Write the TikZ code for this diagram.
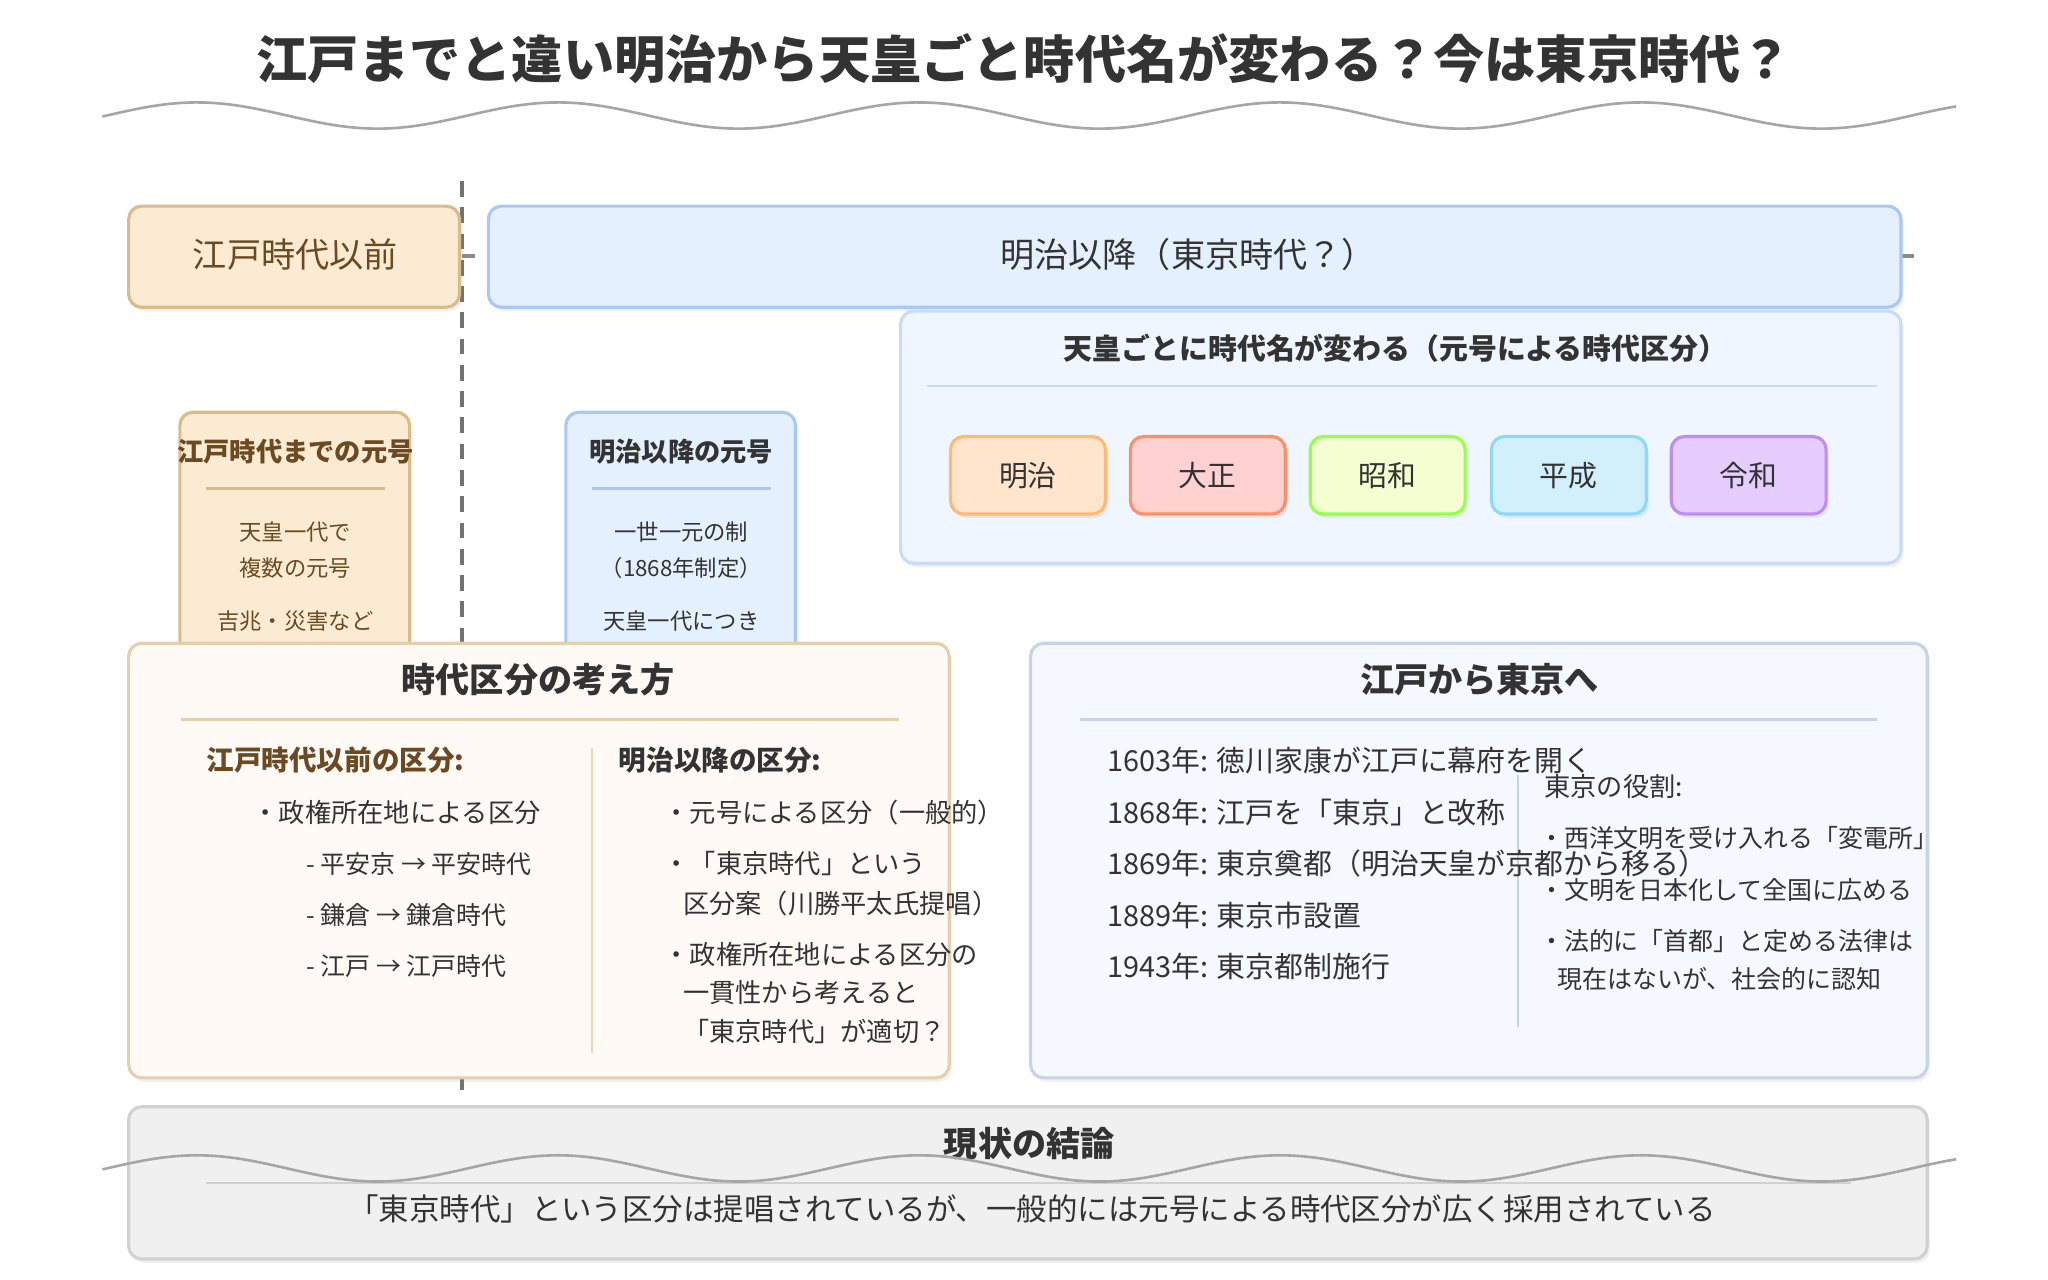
\documentclass[tikz,border=0pt]{standalone}
\usepackage{fontspec}
\setmainfont{Noto Sans CJK JP}
\usetikzlibrary{shadows}
\definecolor{inkdark}{HTML}{333333}
\definecolor{inkbrown}{HTML}{6B4A22}
\definecolor{edofill}{HTML}{FAEBD2}
\definecolor{edoline}{HTML}{D9BC88}
\definecolor{meijifill}{HTML}{E4F0FE}
\definecolor{meijiline}{HTML}{A9C8F6}
\definecolor{erapanel}{HTML}{EFF6FF}
\definecolor{erapanelline}{HTML}{CADCF5}
\definecolor{tokyofill}{HTML}{F5F8FF}
\definecolor{tokyoline}{HTML}{C9D3E8}
\tikzset{
  box/.style={draw, line width=1.2pt, rounded corners=5pt, drop shadow={opacity=0.12, shadow xshift=1pt, shadow yshift=-1.5pt}},
  txt/.style={inner sep=0pt, text=inkdark, font=\fontsize{10}{12}\selectfont},
  ltxt/.style={txt, anchor=west},
  ptitle/.style={inner sep=0pt, text=inkdark, font=\fontsize{12}{14}\selectfont\bfseries},
  era/.style={box, minimum width=59pt, minimum height=29.5pt, inner sep=0pt, text=inkdark, font=\fontsize{11}{13}\selectfont},
  rule/.style={line width=1pt},
  wave/.style={draw=black!35, line width=1pt}
}
\begin{document}
\begin{tikzpicture}[x=0.5pt, y=-0.5pt]
  \useasboundingbox (0,0) rectangle (1560,975);
  % title
  \node[inner sep=0pt, text=inkdark, font=\fontsize{19.5}{22}\selectfont\bfseries] (title) at (780,45) {江戸までと違い明治から天皇ごと時代名が変わる？今は東京時代？};
  \draw[wave, domain=78:1490, samples=220] plot (\x, {88-10*cos((\x-150)/275*360)});
  % divider between periods
  \draw[black!55, line width=1.5pt, dash pattern=on 6pt off 4pt] (352,138) -- (352,832);
  \draw[black!45, line width=1.5pt] (352,195) -- (362,195);
  \draw[black!45, line width=1.5pt] (1448,195) -- (1458,195);
  % period headers
  \draw[box, draw=edoline, fill=edofill] (98,157) rectangle (350,234);
  \node[inner sep=0pt, text=inkbrown, font=\fontsize{13}{15}\selectfont] (edo) at (225,194) {江戸時代以前};
  \draw[box, draw=meijiline, fill=meijifill] (372,157) rectangle (1448,234);
  \node[inner sep=0pt, text=inkdark, font=\fontsize{13}{15}\selectfont] (meiji) at (905,194) {明治以降（東京時代？）};
  % era names panel
  \draw[box, draw=erapanelline, fill=erapanel] (686,237) rectangle (1448,429);
  \node[ptitle, font=\fontsize{11}{13}\selectfont\bfseries] (eratitle) at (1063,265) {天皇ごとに時代名が変わる（元号による時代区分）};
  \draw[rule, erapanelline] (706,294) -- (1430,294);
  \node[era, draw=orange!55, fill=orange!20!white] (e1) at (783,362) {明治};
  \node[era, draw=red!45!orange!60, fill=red!18!white] (e2) at (920,362) {大正};
  \node[era, draw=green!45!lime!70, fill=lime!18!white] (e3) at (1057,362) {昭和};
  \node[era, draw=cyan!45, fill=cyan!18!white] (e4) at (1195,362) {平成};
  \node[era, draw={rgb,255:red,192;green,140;blue,240}, fill={rgb,255:red,230;green,204;blue,255}] (e5) at (1332,362) {令和};
  % small gengo boxes
  \draw[box, draw=edoline, fill=edofill] (137,314) rectangle (312,520);
  \node[inner sep=0pt, text=inkbrown, font=\fontsize{10}{12}\selectfont\bfseries] (g1t) at (225,344) {江戸時代までの元号};
  \draw[rule, edoline] (157,372) -- (293,372);
  \node[txt, text=inkbrown, font=\fontsize{8.5}{10}\selectfont] (g1a) at (225,405) {天皇一代で};
  \node[txt, text=inkbrown, font=\fontsize{8.5}{10}\selectfont] (g1b) at (225,433) {複数の元号};
  \node[txt, text=inkbrown, font=\fontsize{8.5}{10}\selectfont] (g1c) at (225,473) {吉兆・災害など};
  \draw[box, draw=meijiline, fill=meijifill] (431,314) rectangle (606,520);
  \node[inner sep=0pt, text=inkdark, font=\fontsize{10}{12}\selectfont\bfseries] (g2t) at (519,344) {明治以降の元号};
  \draw[rule, meijiline] (451,372) -- (587,372);
  \node[txt, font=\fontsize{8.5}{10}\selectfont] (g2a) at (519,405) {一世一元の制};
  \node[txt, font=\fontsize{8.5}{10}\selectfont] (g2b) at (519,433) {（1868年制定）};
  \node[txt, font=\fontsize{8.5}{10}\selectfont] (g2c) at (519,473) {天皇一代につき};
  % way of thinking panel
  \draw[box, draw=edoline!70, fill=orange!4!white] (98,490) rectangle (723,821);
  \node[ptitle, font=\fontsize{13}{15}\selectfont\bfseries] (kt) at (410,518) {時代区分の考え方};
  \draw[rule, edoline!70] (138,548) -- (685,548);
  \draw[line width=0.8pt, edoline!60] (451,570) -- (451,802);
  \node[ltxt, text=inkbrown, font=\fontsize{10.5}{12}\selectfont\bfseries] (kl) at (157,579) {江戸時代以前の区分:};
  \node[ltxt] (kl1) at (192,619) {・政権所在地による区分};
  \node[ltxt, font=\fontsize{9.5}{11}\selectfont] (kl2) at (233,658) {- 平安京 → 平安時代};
  \node[ltxt, font=\fontsize{9.5}{11}\selectfont] (kl3) at (233,697) {- 鎌倉 → 鎌倉時代};
  \node[ltxt, font=\fontsize{9.5}{11}\selectfont] (kl4) at (233,736) {- 江戸 → 江戸時代};
  \node[ltxt, font=\fontsize{10.5}{12}\selectfont\bfseries] (kr) at (471,579) {明治以降の区分:};
  \node[ltxt] (kr1) at (505,619) {・元号による区分（一般的）};
  \node[ltxt] (kr2) at (505,658) {・「東京時代」という};
  \node[ltxt] (kr2b) at (520,688) {区分案（川勝平太氏提唱）};
  \node[ltxt] (kr3) at (505,727) {・政権所在地による区分の};
  \node[ltxt] (kr3b) at (520,756) {一貫性から考えると};
  \node[ltxt] (kr3c) at (520,786) {「東京時代」が適切？};
  % edo to tokyo panel
  \draw[box, draw=tokyoline, fill=tokyofill] (785,490) rectangle (1468,821);
  \node[ptitle, font=\fontsize{13}{15}\selectfont\bfseries] (tt) at (1127,518) {江戸から東京へ};
  \draw[rule, tokyoline] (823,548) -- (1430,548);
  \draw[line width=0.8pt, tokyoline] (1156,590) -- (1156,782);
  \node[ltxt, font=\fontsize{11}{13}\selectfont] (t1) at (843,579) {1603年: 徳川家康が江戸に幕府を開く};
  \node[ltxt, font=\fontsize{11}{13}\selectfont] (t2) at (843,619) {1868年: 江戸を「東京」と改称};
  \node[ltxt, font=\fontsize{11}{13}\selectfont] (t3) at (843,658) {1869年: 東京奠都（明治天皇が京都から移る）};
  \node[ltxt, font=\fontsize{11}{13}\selectfont] (t4) at (843,697) {1889年: 東京市設置};
  \node[ltxt, font=\fontsize{11}{13}\selectfont] (t5) at (843,736) {1943年: 東京都制施行};
  \node[ltxt] (r0) at (1176,599) {東京の役割:};
  \node[ltxt, font=\fontsize{9.5}{11}\selectfont] (r1) at (1172,638) {・西洋文明を受け入れる「変電所」};
  \node[ltxt, font=\fontsize{9.5}{11}\selectfont] (r2) at (1172,678) {・文明を日本化して全国に広める};
  \node[ltxt, font=\fontsize{9.5}{11}\selectfont] (r3) at (1172,717) {・法的に「首都」と定める法律は};
  \node[ltxt, font=\fontsize{9.5}{11}\selectfont] (r3b) at (1186,746) {現在はないが、社会的に認知};
  % conclusion
  \draw[box, draw=black!18, fill=black!6] (98,843) rectangle (1468,959);
  \node[ptitle, font=\fontsize{13}{15}\selectfont\bfseries] (ct) at (784,871) {現状の結論};
  \draw[rule, black!18] (157,901) -- (1410,901);
  \node[txt, font=\fontsize{11.6}{13}\selectfont] (cx) at (786,921) {「東京時代」という区分は提唱されているが、一般的には元号による時代区分が広く採用されている};
  \draw[wave, domain=78:1490, samples=220] plot (\x, {890-10*cos((\x-150)/275*360)});
\end{tikzpicture}
\end{document}
